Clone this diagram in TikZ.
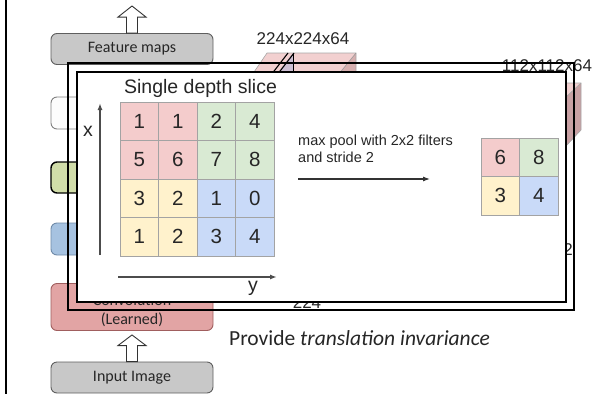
\documentclass[tikz,border=0pt]{standalone}
\usepackage{fontspec}
\setmainfont{Carlito}
\newfontfamily\arial{Liberation Sans}
\usetikzlibrary{arrows.meta,calc}

\definecolor{pinkc}{HTML}{F4CCCC}
\definecolor{greenc}{HTML}{D9EAD3}
\definecolor{yellowc}{HTML}{FFF2CC}
\definecolor{bluec}{HTML}{C9DAF8}
\definecolor{gridline}{HTML}{A3A3A3}
\definecolor{txt}{HTML}{262626}
\definecolor{grayfill}{HTML}{C8C8C8}
\definecolor{grayedge}{HTML}{5E5E5E}
\definecolor{convfill}{HTML}{E2A4A4}
\definecolor{convedge}{HTML}{A05E5E}
\definecolor{greenfill}{HTML}{D1DDA9}
\definecolor{bluefill}{HTML}{A6C2E0}
\definecolor{blueedge}{HTML}{6F8AA8}
\definecolor{slabtop}{HTML}{F2D0D0}
\definecolor{slabside}{HTML}{D6AFAF}
\definecolor{slabdeep}{HTML}{C8A0A3}
\definecolor{lavender}{HTML}{CDBFD3}

\begin{document}
\begin{tikzpicture}[x=1pt,y=-1pt,
  sidebox/.style={draw=grayedge, rounded corners=6pt, minimum width=162pt,
    inner sep=0pt, line width=0.9pt},
  sidetext/.style={font=\fontsize{16}{18}\selectfont, text=txt, inner sep=0pt},
  blockarrow/.style={draw=black!80, fill=white, line width=0.9pt, line join=miter},
  cell/.style={draw=gridline, line width=0.8pt, minimum size=38.5pt, inner sep=0pt,
    font=\arial\fontsize{20.5}{23}\selectfont, text=txt},
  paneltext/.style={font=\arial\fontsize{19.5}{22}\selectfont, text=txt, inner sep=0pt},
  dimtext/.style={font=\arial\fontsize{17}{20}\selectfont, text=txt, inner sep=0pt},
  axis/.style={draw=black!70, line width=1.4pt, -{Latex[length=7pt,width=5pt]}},
  frame/.style={draw=black, line width=2.2pt}]

\useasboundingbox (0,0) rectangle (594,394);

% left margin rule
\draw[line width=2.5pt] (6,0) -- (6,394);

% layer stack on the left
\node[sidebox, fill=grayfill, minimum height=31pt] (fm) at (132,49) {};
\node[sidetext] (fmt) at (132,49) {Feature maps};
\node[sidebox, fill=white!98!gray, draw=black!50, minimum height=32pt] (wb) at (132,113) {};
\node[sidebox, fill=greenfill, draw=black, line width=1.4pt, minimum height=31pt] (gb) at (132,177.5) {};
\node[sidebox, fill=bluefill, draw=blueedge, minimum height=32pt] (bb) at (132,239) {};
\node[sidebox, fill=convfill, draw=convedge, minimum height=47pt] (conv) at (132,307) {};
\node[sidetext] (convt1) at (132,300) {Convolution};
\node[sidetext] (convt2) at (132,320) {(Learned)};
\node[sidebox, fill=grayfill, minimum height=31pt] (inp) at (132,377.5) {};
\node[sidetext] (inpt) at (132,377.5) {Input Image};

% hollow block arrows
\coordinate (fmtop) at (132,6);
\draw[blockarrow] ($(fm.north)+(-5.5,0)$) -- ($(fm.north)+(-5.5,-16)$)
  -- ($(fm.north)+(-14,-16)$) -- (fmtop) -- ($(fm.north)+(14,-16)$)
  -- ($(fm.north)+(5.5,-16)$) -- ($(fm.north)+(5.5,0)$) -- cycle;
\draw[blockarrow] ($(inp.north)+(-5.5,0)$) -- ($(inp.north)+(-5.5,-16)$)
  -- ($(inp.north)+(-14,-16)$) -- ($(conv.south)+(0,4)$) -- ($(inp.north)+(14,-16)$)
  -- ($(inp.north)+(5.5,-16)$) -- ($(inp.north)+(5.5,0)$) -- cycle;

% 224x224x64 slab
\fill[slabtop] (252,75) -- (267,53) -- (356,53) -- (338,75) -- cycle;
\fill[lavender] (276,75) -- (293,53) -- (293,75) -- cycle;
\fill[slabside] (338,75) -- (356,53) -- (356,75) -- cycle;
\draw[gray!70, line width=0.6pt] (252,75) -- (267,53) -- (356,53) -- (356,75);
\draw[gray!80, line width=0.6pt] (356,53) -- (338,75);
\draw[black, line width=0.8pt] (293,53) -- (293,75);
\draw[black, line width=1.1pt] (271,75) -- (288,53) (277,75) -- (294,53);
\node[dimtext] (d224) at (303,39) {224x224x64};

% 112x112x64 slab
\fill[slabtop] (520,97) -- (535,83) -- (581,83) -- (566,97) -- cycle;
\fill[slabdeep] (566,97) -- (581,83) -- (581,130) -- (566,146) -- cycle;
\draw[gray!70, line width=0.6pt] (535,83) -- (581,83) -- (581,130) -- (566,146);
\draw[gray!70, line width=0.6pt] (566,97) -- (581,83);
\node[dimtext] (d112) at (547,66) {112x112x64};
\node[dimtext, anchor=east] (w112) at (573,250) {112};
\node[dimtext] (w224) at (307,303) {224};

% outer frame
\draw[frame] (68,63) rectangle (574,310);

% pooling panel
\node[frame, fill=white, minimum width=489pt, minimum height=230pt, inner sep=0pt]
  (panel) at (321.5,187) {};
\node[paneltext] (title) at (200.5,88) {Single depth slice};

\foreach \r/\c/\v/\f in {1/1/1/pinkc,1/2/1/pinkc,1/3/2/greenc,1/4/4/greenc,
                         2/1/5/pinkc,2/2/6/pinkc,2/3/7/greenc,2/4/8/greenc,
                         3/1/3/yellowc,3/2/2/yellowc,3/3/1/bluec,3/4/0/bluec,
                         4/1/1/yellowc,4/2/2/yellowc,4/3/3/bluec,4/4/4/bluec}
  \node[cell, fill=\f] (a\r\c) at ({139.25+38.5*(\c-1)},{121.25+38.5*(\r-1)}) {\v};

\foreach \r/\c/\v/\f in {1/1/6/pinkc,1/2/8/greenc,2/1/3/yellowc,2/2/4/bluec}
  \node[cell, fill=\f] (b\r\c) at ({500.25+38.5*(\c-1)},{157.25+38.5*(\r-1)}) {\v};

% axes
\coordinate (xbot) at (100,255);
\coordinate (xtop) at (100,103);
\coordinate (yleft) at (118,277);
\coordinate (yright) at (277,277);
\draw[axis] (xbot) -- (xtop);
\draw[axis] (yleft) -- (yright);
\node[paneltext] (xl) at (88,131) {x};
\node[paneltext] (yl) at (253,288) {y};

% pooling operation
\node[font=\arial\fontsize{14.5}{16.5}\selectfont, text=txt, align=left, anchor=north west,
  inner sep=0pt] (mp) at (298,135) {max pool with 2x2 filters\\and stride 2};
\coordinate (mp0) at (298,179);
\coordinate (mp1) at (430,179);
\draw[draw=black!80, line width=1.1pt, -{Latex[length=7pt,width=5pt]}] (mp0) -- (mp1);

% caption
\node[anchor=west, font=\fontsize{21.5}{24}\selectfont, text=txt, inner sep=0pt]
  (cap) at (229,338) {Provide \textit{translation invariance}};
\end{tikzpicture}
\end{document}
